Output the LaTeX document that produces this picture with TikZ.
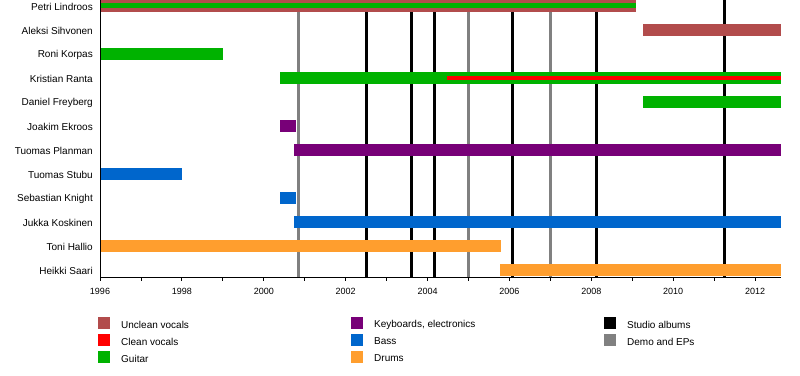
\documentclass[tikz,border=0pt]{standalone}
\usepackage{fontspec}
\setmainfont{Liberation Sans}
\definecolor{unclean}{rgb}{0.7,0.3,0.3}
\definecolor{clean}{rgb}{1,0,0}
\definecolor{guitar}{rgb}{0,0.7,0}
\definecolor{keys}{rgb}{0.47,0,0.47}
\definecolor{bass}{rgb}{0,0.4,0.8}
\definecolor{drums}{rgb}{1,0.62,0.18}
\definecolor{demo}{rgb}{0.5,0.5,0.5}
\begin{document}
\begin{tikzpicture}[x=1pt,y=-1pt,
  every node/.style={inner sep=0pt,font=\fontsize{10}{12}\selectfont},
  ticklabel/.style={font=\fontsize{9}{11}\selectfont},
  albumline/.style={line width=3pt},
  legsq/.style={minimum size=12pt,draw=none}]
\useasboundingbox (0,0) rectangle (800,375);
\def\X#1{100+(#1-1996)*40.94}
% release lines
\foreach \yr in {2002.52,2003.61,2004.17,2006.07,2008.12,2011.25}
  \draw[albumline,black] ({\X{\yr}},0) -- ({\X{\yr}},277);
\foreach \yr in {2000.84,2005.0,2007.0}
  \draw[albumline,demo] ({\X{\yr}},0) -- ({\X{\yr}},277);
% bars
\foreach \r/\a/\b/\c in {0/1996/2009.08/unclean, 1/2009.26/2012.63/unclean,
  2/1996/1999.0/guitar, 3/2000.4/2012.63/guitar, 4/2009.26/2012.63/guitar,
  5/2000.4/2000.78/keys, 6/2000.74/2012.63/keys, 7/1996/1998.0/bass,
  8/2000.4/2000.78/bass, 9/2000.74/2012.63/bass, 10/1996/2005.79/drums,
  11/2005.77/2012.63/drums}
  \fill[\c] ({\X{\a}},{24*\r}) rectangle ({\X{\b}},{24*\r+12});
\fill[guitar] ({\X{1996}},3) rectangle ({\X{2009.08}},8);
\fill[clean] ({\X{2004.48}},76) rectangle ({\X{2012.63}},80);
% names
\foreach \n/\t [count=\i from 0] in {petri/Petri Lindroos, aleksi/Aleksi Sihvonen,
  roni/Roni Korpas, kristian/Kristian Ranta, daniel/Daniel Freyberg,
  joakim/Joakim Ekroos, planman/Tuomas Planman, stubu/Tuomas Stubu,
  sebastian/Sebastian Knight, jukka/Jukka Koskinen, toni/Toni Hallio,
  heikki/Heikki Saari}
  \node[anchor=east] (\n) at (93,{7+24*\i}) {\t};
% axes
\draw[line width=1pt] (100,0) -- (100,277) -- (781,277);
\foreach \k in {0,...,16}
  \draw[line width=0.8pt] ({100+\k*40.94},277) -- ++(0,4);
\foreach \yr in {1996,1998,...,2012}
  \node[ticklabel] (t\yr) at ({\X{\yr}},291) {\yr};
% legend
\foreach \n/\c/\t/\x/\y in {lu/unclean/Unclean vocals/104/323, lc/clean/Clean vocals/104/340,
  lg/guitar/Guitar/104/357, lk/keys/{Keyboards, electronics}/357/323,
  lb/bass/Bass/357/340, ld/drums/Drums/357/357,
  ls/black/Studio albums/610/323, le/demo/Demo and EPs/610/340}
  {\node[legsq,fill=\c] (\n) at (\x,\y) {};
   \node[anchor=west] (\n-t) at (\x+17,\y+1.5) {\t};}
\end{tikzpicture}
\end{document}
